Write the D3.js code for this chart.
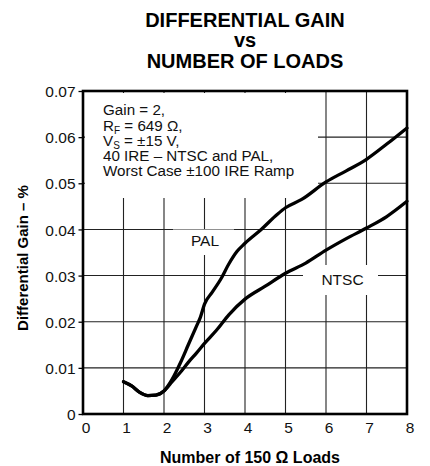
<!DOCTYPE html>
<html>
<head>
<meta charset="utf-8">
<script src="https://cdn.jsdelivr.net/npm/d3@7"></script>
<style>
  html, body { margin: 0; padding: 0; background: #fff; }
  svg { display: block; font-family: "Liberation Sans", Arial, sans-serif; }
</style>
</head>
<body>
<svg id="chart" width="430" height="466"></svg>
<script>
// ---- data ----
const titleLines = ["DIFFERENTIAL GAIN", "vs", "NUMBER OF LOADS"];
const xTicks = [0, 1, 2, 3, 4, 5, 6, 7, 8];
const yTicks = [0, 0.01, 0.02, 0.03, 0.04, 0.05, 0.06, 0.07];
const yTickLabels = ["0", "0.01", "0.02", "0.03", "0.04", "0.05", "0.06", "0.07"];

const palX = [1, 1.2, 1.4, 1.6, 1.8, 2.0, 2.2, 2.4, 2.6, 2.8, 2.9, 3.0, 3.2, 3.4, 3.6, 3.8, 4.0, 4.4, 4.8, 5.0, 5.4, 6.0, 6.5, 7.0, 7.5, 8.0];
const palY = [0.0070, 0.0061, 0.0047, 0.0040, 0.0041, 0.0050, 0.0075, 0.0110, 0.0150, 0.0190, 0.0210, 0.0238, 0.0265, 0.0292, 0.0325, 0.0352, 0.0370, 0.0400, 0.0433, 0.0447, 0.0465, 0.0503, 0.0527, 0.0552, 0.0585, 0.0620];

const ntscX = [1, 1.2, 1.4, 1.6, 1.8, 2.0, 2.2, 2.4, 2.6, 2.8, 3.0, 3.3, 3.6, 4.0, 4.5, 5.0, 5.5, 6.0, 6.5, 7.0, 7.5, 8.0];
const ntscY = [0.0070, 0.0061, 0.0047, 0.0040, 0.0041, 0.0050, 0.0070, 0.0090, 0.0112, 0.0132, 0.0153, 0.0182, 0.0215, 0.0249, 0.0277, 0.0305, 0.0327, 0.0355, 0.0380, 0.0403, 0.0428, 0.0461];

const xLabel = "Number of 150 \u03A9 Loads";
const yLabel = "Differential Gain \u2013 %";

// ---- layout ----
const svg = d3.select("#chart");
const x = d3.scaleLinear().domain([0, 8]).range([83, 407]);
const y = d3.scaleLinear().domain([0, 0.07]).range([414, 91]);

// title
svg.append("g").selectAll("text").data(titleLines).join("text")
  .attr("x", 245).attr("y", (d, i) => 26.5 + i * 20.8)
  .attr("text-anchor", "middle")
  .attr("font-weight", "bold").attr("font-size", 20)
  .text(d => d);

// grid
const grid = svg.append("g").attr("stroke", "#222").attr("stroke-width", 1.1);
grid.selectAll("line.v").data(xTicks.slice(1, -1)).join("line")
  .attr("x1", d => x(d)).attr("x2", d => x(d))
  .attr("y1", y(0.07)).attr("y2", y(0));
grid.selectAll("line.h").data(yTicks.slice(1, -1)).join("line")
  .attr("x1", x(0)).attr("x2", x(8))
  .attr("y1", d => y(d)).attr("y2", d => y(d));

// masks behind text
const masks = [
  [x(0) + 2, y(0.07) + 2, 318, 198],
  [173, 229.5, 234, 255],
  [303, 265, 378, 295]
];
svg.append("g").selectAll("rect").data(masks).join("rect")
  .attr("x", d => d[0]).attr("y", d => d[1])
  .attr("width", d => d[2] - d[0]).attr("height", d => d[3] - d[1])
  .attr("fill", "#fff");

// annotation (one text per line)
const annX = 103, annFs = 15.2, subFs = 10;
const annG = svg.append("g").attr("font-size", annFs).attr("fill", "#111");
annG.append("text").attr("x", annX).attr("y", 115).text("Gain = 2,");
const l2 = annG.append("text").attr("x", annX).attr("y", 130.5);
l2.append("tspan").text("R");
l2.append("tspan").attr("font-size", subFs).attr("dy", 3).text("F");
l2.append("tspan").attr("dy", -3).text(" = 649 \u03A9,");
const l3 = annG.append("text").attr("x", annX).attr("y", 145.5);
l3.append("tspan").text("V");
l3.append("tspan").attr("font-size", subFs).attr("dy", 3).text("S");
l3.append("tspan").attr("dy", -3).text(" = \u00B115 V,");
annG.append("text").attr("x", annX).attr("y", 161).text("40 IRE \u2013 NTSC and PAL,");
annG.append("text").attr("x", annX).attr("y", 176).text("Worst Case \u00B1100 IRE Ramp");

// curve labels
svg.append("text").attr("x", 205).attr("y", 246).attr("text-anchor", "middle")
  .attr("font-size", 15.5).attr("fill", "#111").text("PAL");
svg.append("text").attr("x", 342.5).attr("y", 285).attr("text-anchor", "middle")
  .attr("font-size", 15.5).attr("fill", "#111").text("NTSC");

// curves
const line = d3.line().x(d => x(d[0])).y(d => y(d[1])).curve(d3.curveMonotoneX);
const series = [d3.zip(palX, palY), d3.zip(ntscX, ntscY)];
svg.append("g").selectAll("path").data(series).join("path")
  .attr("d", line).attr("fill", "none")
  .attr("stroke", "#000").attr("stroke-width", 3.3)
  .attr("stroke-linejoin", "round").attr("stroke-linecap", "round");

// frame
svg.append("rect").attr("x", x(0)).attr("y", y(0.07))
  .attr("width", x(8) - x(0)).attr("height", y(0) - y(0.07))
  .attr("fill", "none").attr("stroke", "#000").attr("stroke-width", 2.6);

// y axis ticks & labels
const yAxis = d3.axisLeft(y).tickValues(yTicks)
  .tickFormat((d, i) => yTickLabels[i]).tickSize(4.5).tickPadding(3);
const gy = svg.append("g").attr("transform", `translate(${x(0)},0)`).call(yAxis);
gy.select(".domain").remove();
gy.selectAll(".tick line").attr("stroke", "#000").attr("stroke-width", 1.3);
gy.selectAll(".tick text").attr("font-size", 15.5).attr("fill", "#111")
  .attr("font-family", "Liberation Sans, Arial, sans-serif").attr("dy", "0.36em");

// x axis labels
const xAxis = d3.axisBottom(x).tickValues(xTicks).tickFormat(d3.format("d")).tickSize(0).tickPadding(8);
const gx = svg.append("g").attr("transform", `translate(0,${y(0)})`).call(xAxis);
gx.select(".domain").remove();
gx.selectAll(".tick text").attr("font-size", 15.5).attr("fill", "#111")
  .attr("font-family", "Liberation Sans, Arial, sans-serif").attr("dx", 2.5);

// axis titles
svg.append("text").attr("x", 250).attr("y", 463).attr("text-anchor", "middle")
  .attr("font-weight", "bold").attr("font-size", 16).text(xLabel);
svg.append("text").attr("transform", "translate(28,258) rotate(-90)")
  .attr("text-anchor", "middle").attr("font-weight", "bold").attr("font-size", 15)
  .text(yLabel);
</script>
</body>
</html>
